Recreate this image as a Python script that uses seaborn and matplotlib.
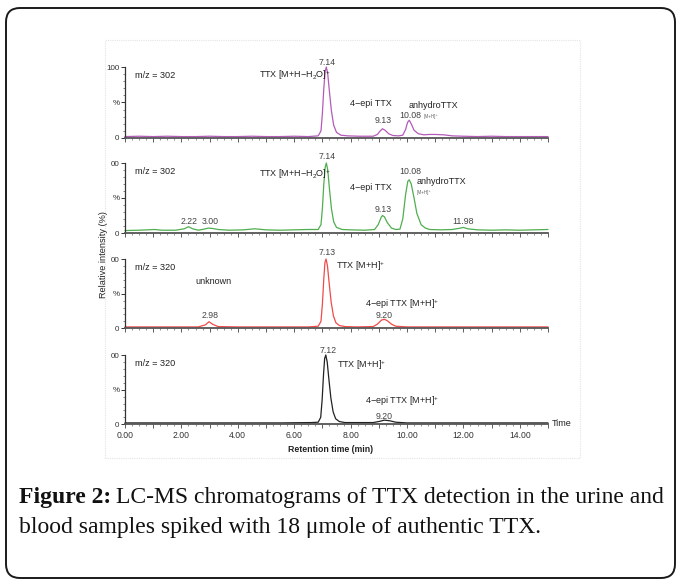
import matplotlib
matplotlib.use("Agg")
import matplotlib.pyplot as plt
from matplotlib.patches import FancyBboxPatch, Rectangle
from matplotlib.ticker import MultipleLocator, FixedLocator
import seaborn as sns
import pandas as pd

sns.set_theme(style="white")
plt.rcParams['font.family'] = ['Liberation Sans', 'DejaVu Sans']
plt.rcParams['mathtext.fontset'] = 'custom'
plt.rcParams['mathtext.rm'] = 'Liberation Sans'
plt.rcParams['mathtext.it'] = 'Liberation Sans'

# ---------------- data (retention time [min], relative intensity [%]) ----------------
trace_302_a = [(0, 2), (0.5, 2.5), (1.0, 2), (1.5, 2.5), (2.0, 2), (2.5, 2), (3.0, 2.5), (3.5, 2),
               (4.0, 2), (4.5, 2.5), (5.0, 2), (5.5, 2), (6.0, 2.5), (6.5, 2), (6.85, 3), (6.95, 10),
               (7.0, 35), (7.05, 70), (7.1, 94), (7.14, 100), (7.19, 90), (7.25, 65), (7.32, 38),
               (7.4, 18), (7.5, 8), (7.65, 4), (7.9, 3), (8.3, 2.5), (8.8, 2.5), (8.95, 5), (9.05, 10),
               (9.13, 13), (9.22, 11), (9.35, 6), (9.5, 3.5), (9.7, 3), (9.85, 4), (9.95, 12),
               (10.02, 22), (10.08, 25), (10.15, 20), (10.25, 11), (10.4, 6), (10.6, 4.5), (10.8, 5),
               (11.0, 5), (11.3, 4.5), (11.6, 3), (12.0, 2.5), (12.5, 2), (13.0, 2.5), (13.5, 2),
               (14.0, 2), (14.5, 2), (15.0, 2)]
trace_302_b = [(0, 3.5), (0.5, 4), (0.8, 4.5), (1.05, 5), (1.3, 4), (1.8, 4), (2.1, 6), (2.25, 9),
               (2.4, 6), (2.6, 4), (2.8, 5.5), (2.95, 7), (3.1, 6.5), (3.3, 5), (3.7, 4), (4.2, 4.5),
               (4.6, 6), (5.0, 4.5), (5.5, 4), (6.0, 4.5), (6.5, 5), (6.85, 5), (6.95, 12), (7.0, 35),
               (7.05, 70), (7.1, 94), (7.14, 100), (7.19, 90), (7.25, 63), (7.32, 35), (7.4, 16),
               (7.5, 8), (7.7, 5), (8.0, 4.5), (8.5, 4), (8.85, 5), (8.98, 12), (9.08, 22), (9.13, 25),
               (9.2, 23), (9.3, 15), (9.45, 7), (9.6, 5), (9.75, 5.5), (9.85, 20), (9.95, 55),
               (10.03, 74), (10.08, 76), (10.15, 70), (10.25, 50), (10.35, 28), (10.5, 12), (10.65, 7),
               (10.8, 5), (11.2, 4.5), (11.6, 5), (11.9, 7), (12.0, 8), (12.15, 6), (12.5, 4.5),
               (13.0, 4), (13.5, 4.5), (14.0, 4), (14.5, 4.5), (15.0, 5)]
trace_320_a = [(0, 2), (1, 2), (2, 2), (2.6, 2), (2.85, 5), (2.98, 9.5), (3.1, 6), (3.3, 2.5), (4, 2),
               (5.5, 2), (6.5, 2), (6.85, 3), (6.95, 10), (7.0, 35), (7.05, 72), (7.09, 95), (7.13, 100),
               (7.18, 90), (7.24, 65), (7.31, 38), (7.39, 18), (7.48, 8), (7.6, 4), (7.8, 2.5), (8.2, 2),
               (8.8, 2.5), (8.95, 6), (9.1, 12), (9.2, 13), (9.3, 11), (9.45, 6), (9.6, 3), (10, 2),
               (11, 2), (12, 2), (13, 2), (14, 2), (15, 2)]
trace_320_b = [(0, 2), (3, 2), (5.5, 2), (6.6, 2.5), (6.85, 3), (6.94, 10), (6.99, 35), (7.04, 72),
               (7.08, 95), (7.12, 100), (7.17, 90), (7.23, 65), (7.3, 38), (7.38, 18), (7.47, 8),
               (7.6, 4), (7.8, 2.5), (8.8, 2.5), (9.0, 4), (9.2, 6), (9.4, 5), (9.6, 3), (10, 2),
               (12, 2), (15, 2)]

panel_mz = ["m/z = 302", "m/z = 302", "m/z = 320", "m/z = 320"]
panel_colors = ["#b45ab9", "#4fae4f", "#f04a4a", "#222222"]
panel_top_labels = ["100", "00", "00", "00"]
x_tick_values = [0, 2, 4, 6, 8, 10, 12, 14]
x_tick_labels = ["0.00", "2.00", "4.00", "6.00", "8.00", "10.00", "12.00", "14.00"]
traces = [trace_302_a, trace_302_b, trace_320_a, trace_320_b]

# ---------------- figure ----------------
W, H = 678, 581
fig = plt.figure(figsize=(W / 100, H / 100), dpi=100)
fig.patch.set_facecolor("white")

def fx(px):
    return px / W

def fy(py):
    return 1 - py / H

# outer rounded frame
frame = FancyBboxPatch((6, 3), 669, 570, boxstyle="round,pad=0,rounding_size=14",
                       transform=None, fill=False, edgecolor="#1a1a1a", linewidth=1.4)
fig.patches.append(frame)
# light frame of the chart image
fig.patches.append(Rectangle((fx(105), fy(458)), fx(580) - fx(105), fy(40) - fy(458),
                             transform=fig.transFigure, fill=False, edgecolor="#e4e4e4",
                             linewidth=0.8, linestyle=(0, (1, 1))))

panel_px = [(67, 138), (163, 233), (259, 328.3), (355, 424.3)]
axes = []
for i, (ytop, ybot) in enumerate(panel_px):
    ax = fig.add_axes([fx(125), fy(ybot), fx(548) - fx(125), (ybot - ytop) / H])
    df = pd.DataFrame(traces[i], columns=["t", "y"])
    sns.lineplot(data=df, x="t", y="y", ax=ax, color=panel_colors[i], linewidth=0.9,
                 estimator=None, sort=False)
    for ln in ax.lines:
        ln.set_clip_on(False)
    ax.set_xlim(0, 15)
    ax.set_ylim(0, 100)
    ax.set_xlabel("")
    ax.set_ylabel("")
    ax.set_facecolor("none")
    for s in ["top", "right"]:
        ax.spines[s].set_visible(False)
    ax.spines["left"].set_color("#333333")
    ax.spines["left"].set_linewidth(0.9)
    ax.spines["bottom"].set_color("#555555")
    ax.spines["bottom"].set_linewidth(1.3)
    ax.yaxis.set_major_locator(FixedLocator([0, 50, 100]))
    ax.set_yticklabels(["0", "%", panel_top_labels[i]])
    ax.yaxis.set_minor_locator(MultipleLocator(10))
    ax.tick_params(axis="y", which="major", direction="out", length=3, width=0.7,
                   labelsize=5.8, pad=1, colors="#333333", left=True)
    ax.tick_params(axis="y", which="minor", direction="out", length=1.5, width=0.5,
                   colors="#555555", left=True)
    ax.xaxis.set_major_locator(MultipleLocator(1))
    ax.xaxis.set_minor_locator(MultipleLocator(0.25))
    ax.tick_params(axis="x", which="major", direction="out", length=3, width=0.6,
                   colors="#444444", bottom=True, labelsize=6.2, pad=1.5)
    ax.tick_params(axis="x", which="minor", direction="out", length=1.6, width=0.5,
                   colors="#666666", bottom=True)
    if i == 3:
        ax.set_xticks(list(range(16)))
        ax.set_xticklabels([x_tick_labels[x_tick_values.index(k)] if k in x_tick_values else ""
                            for k in range(16)], color="#333333")
    else:
        ax.set_xticklabels([])
    ax.text(0.35, 88, panel_mz[i], fontsize=6.6, color="#222222", va="center", ha="left")
    axes.append(ax)

fs = 6.5
lab = dict(fontsize=fs, color="#222222", va="center", clip_on=False)
num = dict(fontsize=6.3, color="#444444", va="center", ha="center", clip_on=False)

a1, a2, a3, a4 = axes
# panel 1
a1.text(7.17, 107, "7.14", **num)
a1.text(7.3, 89, r"TTX [M+H$-$H$_2$O]$^{+}$", ha="right", **lab)
a1.text(7.98, 48, "4−epi TTX", ha="left", **lab)
a1.text(10.07, 46, "anhydroTTX", ha="left", **lab)
a1.text(9.15, 24, "9.13", **num)
a1.text(10.1, 31, "10.08", **num)
a1.text(10.6, 30, "[M+H]⁺", fontsize=3.3, color="#666666", va="center", ha="left", clip_on=False)
# panel 2
a2.text(7.17, 109, "7.14", **num)
a2.text(7.3, 84, r"TTX [M+H$-$H$_2$O]$^{+}$", ha="right", **lab)
a2.text(7.98, 65, "4−epi TTX", ha="left", **lab)
a2.text(9.15, 33, "9.13", **num)
a2.text(10.1, 88, "10.08", **num)
a2.text(10.35, 73, "anhydroTTX", ha="left", **lab)
a2.text(10.35, 58, "[M+H]⁺", fontsize=3.3, color="#666666", va="center", ha="left", clip_on=False)
a2.text(2.27, 16, "2.22", **num)
a2.text(3.01, 16, "3.00", **num)
a2.text(11.99, 16, "11.98", **num)
# panel 3
a3.text(2.48, 68, "unknown", ha="left", **lab)
a3.text(7.16, 110, "7.13", **num)
a3.text(7.48, 90, r"TTX [M+H]$^{+}$", ha="left", **lab)
a3.text(8.51, 35, r"4−epi TTX [M+H]$^{+}$", ha="left", **lab)
a3.text(9.18, 18, "9.20", **num)
a3.text(3.01, 18, "2.98", **num)
# panel 4
a4.text(7.2, 107, "7.12", **num)
a4.text(7.52, 85, r"TTX [M+H]$^{+}$", ha="left", **lab)
a4.text(8.51, 33, r"4−epi TTX [M+H]$^{+}$", ha="left", **lab)
a4.text(9.18, 11, "9.20", **num)
a4.text(15.12, 1, "Time", ha="left", **lab)

fig.text(fx(104), fy(255), "Relative intensity (%)", rotation=90, fontsize=6.6,
         color="#222222", ha="center", va="center")
fig.text(fx(331), fy(449), "Retention time (min)", fontsize=6.3, fontweight="bold",
         color="#222222", ha="center", va="center")

# caption
cap_fs = 17.0
fig.canvas.draw()
r = fig.canvas.get_renderer()
t1 = fig.text(fx(19), fy(497), "Figure 2:", fontsize=cap_fs, fontweight="bold",
              family="Liberation Serif", color="#111111", va="center", ha="left")
bb = t1.get_window_extent(renderer=r)
fig.text(bb.x1 / W + fx(5), fy(497), "LC-MS chromatograms of TTX detection in the urine and",
         fontsize=cap_fs, family="Liberation Serif", color="#111111", va="center", ha="left")
fig.text(fx(19), fy(527), "blood samples spiked with 18 μmole of authentic TTX.",
         fontsize=cap_fs, family="Liberation Serif", color="#111111", va="center", ha="left")

fig.savefig("out.png", dpi=100, facecolor="white")
